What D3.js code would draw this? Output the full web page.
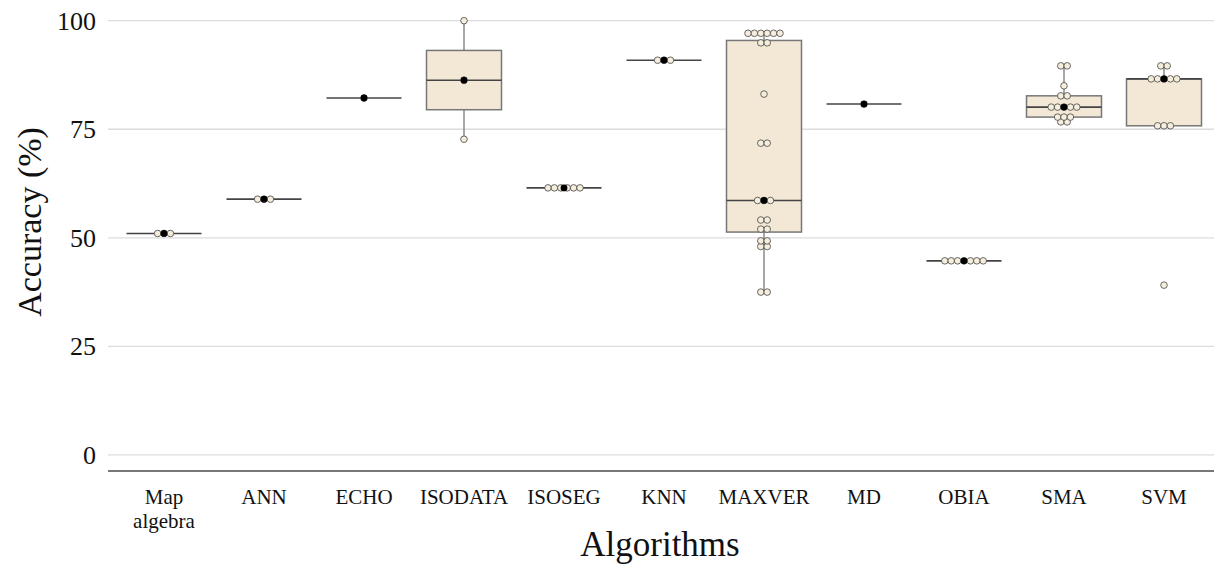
<!DOCTYPE html>
<html>
<head>
<meta charset="utf-8">
<script src="https://cdn.jsdelivr.net/npm/d3@7"></script>
<style>
  body { margin: 0; background: #fff; }
  text { font-family: "Liberation Serif", "Times New Roman", serif; fill: #111; }
</style>
</head>
<body>
<div id="chart"></div>
<script>
// Algorithms on the x axis
const categories = ['Map algebra', 'ANN', 'ECHO', 'ISODATA', 'ISOSEG', 'KNN', 'MAXVER', 'MD', 'OBIA', 'SMA', 'SVM'];

// accuracy values (%) per algorithm
const mapAlgebra = [51.0, 51.0, 51.0];
const ann = [58.9, 58.9, 58.9];
const echo = [82.2];
const isodata = [72.7, 86.3, 100];
const isoseg = [61.5, 61.5, 61.5, 61.5, 61.5, 61.5];
const knn = [90.9, 90.9, 90.9];
const maxver = [37.5, 37.5, 48.0, 48.0, 49.3, 49.3, 52.0, 52.0, 54.1, 54.1, 58.6, 58.6, 58.6,
  71.8, 71.8, 83.1, 94.9, 94.9, 97.1, 97.1, 97.1, 97.1, 97.1, 97.1];
const md = [80.8];
const obia = [44.7, 44.7, 44.7, 44.7, 44.7, 44.7, 44.7];
const sma = [76.7, 76.7, 77.8, 77.8, 77.8, 80.1, 80.1, 80.1, 80.1, 80.1, 82.7, 82.7, 85.0, 89.6, 89.6];
const svm = [39.1, 75.8, 75.8, 75.8, 86.6, 86.6, 86.6, 86.6, 86.6, 89.6, 89.6];

const yTicks = [0, 25, 50, 75, 100];

const groups = [mapAlgebra, ann, echo, isodata, isoseg, knn, maxver, md, obia, sma, svm]
  .map((vals, i) => ({ name: categories[i], values: vals.slice().sort(d3.ascending) }));

const W = 1214, H = 569;
const svg = d3.select('#chart').append('svg')
  .attr('width', W)
  .attr('height', H);

// scales
const x = d3.scaleBand()
  .domain(categories)
  .range([114, 1214])
  .paddingInner(0.25)
  .paddingOuter(0.125);

const y = d3.scaleLinear()
  .domain([-3.7, 100])
  .range([471, 20.7]);

// gridlines
svg.append('g')
  .selectAll('line')
  .data(yTicks)
  .enter().append('line')
  .attr('x1', 108)
  .attr('x2', W)
  .attr('y1', d => y(d))
  .attr('y2', d => y(d))
  .attr('stroke', '#dcdcdc')
  .attr('stroke-width', 1.3);

// y axis labels
const yAxis = svg.append('g')
  .attr('transform', 'translate(108,0)')
  .call(d3.axisLeft(y).tickValues(yTicks).tickSize(0).tickPadding(12).tickFormat(d3.format('d')));
yAxis.select('.domain').remove();
yAxis.selectAll('text')
  .style('font-size', '26px')
  .style('font-family', '"Liberation Serif", serif')
  .attr('fill', '#111');

// x axis
const xAxis = svg.append('g')
  .attr('transform', `translate(0,${y(-3.7)})`)
  .call(d3.axisBottom(x).tickSize(0).tickPadding(18));
xAxis.select('.domain')
  .attr('d', `M108,0H${W}`)
  .attr('stroke', '#777')
  .attr('stroke-width', 2);
xAxis.selectAll('.tick text')
  .style('font-size', '21px')
  .style('font-family', '"Liberation Serif", serif')
  .attr('fill', '#111')
  .each(function(d) {
    const words = d.split(' ');
    if (words.length > 1) {
      const t = d3.select(this).text(null);
      words.forEach((w, i) => {
        t.append('tspan')
          .attr('x', 0)
          .attr('dy', i === 0 ? '0.71em' : '1.15em')
          .text(w);
      });
      t.attr('dy', null);
    }
  });

// axis titles
svg.append('text')
  .attr('x', 660)
  .attr('y', 556)
  .attr('text-anchor', 'middle')
  .style('font-size', '35px')
  .text('Algorithms');

svg.append('text')
  .attr('transform', 'translate(29,222) rotate(-90)')
  .attr('text-anchor', 'middle')
  .attr('dominant-baseline', 'central')
  .style('font-size', '34px')
  .text('Accuracy (%)');

// box stats
groups.forEach(g => {
  const v = g.values;
  g.q1 = d3.quantile(v, 0.25);
  g.med = d3.quantile(v, 0.5);
  g.q3 = d3.quantile(v, 0.75);
  const iqr = g.q3 - g.q1;
  g.lo = d3.min(v.filter(d => d >= g.q1 - 1.5 * iqr));
  g.hi = d3.max(v.filter(d => d <= g.q3 + 1.5 * iqr));
});

const boxes = svg.append('g')
  .selectAll('g')
  .data(groups)
  .enter().append('g')
  .attr('transform', d => `translate(${x(d.name)},0)`);

const bw = x.bandwidth();

// whiskers
boxes.append('line')
  .attr('x1', bw / 2).attr('x2', bw / 2)
  .attr('y1', d => y(d.hi)).attr('y2', d => y(d.q3))
  .attr('stroke', '#8a8a8a').attr('stroke-width', 1.5);
boxes.append('line')
  .attr('x1', bw / 2).attr('x2', bw / 2)
  .attr('y1', d => y(d.q1)).attr('y2', d => y(d.lo))
  .attr('stroke', '#8a8a8a').attr('stroke-width', 1.5);

// box
boxes.append('rect')
  .attr('x', 0)
  .attr('width', bw)
  .attr('y', d => y(d.q3))
  .attr('height', d => y(d.q1) - y(d.q3))
  .attr('fill', '#f2e8d5')
  .attr('stroke', '#777')
  .attr('stroke-width', 1.5);

// median line
boxes.append('line')
  .attr('x1', 0).attr('x2', bw)
  .attr('y1', d => y(d.med)).attr('y2', d => y(d.med))
  .attr('stroke', '#444')
  .attr('stroke-width', 1.6);

// points, dodged sideways when they share a value
const step = 6.4;
boxes.each(function(g) {
  const rows = d3.groups(g.values, d => d);
  const pts = [];
  rows.forEach(([val, arr]) => {
    arr.forEach((d, i) => pts.push({ v: d, dx: (i - (arr.length - 1) / 2) * step }));
  });
  d3.select(this).selectAll('circle.pt')
    .data(pts)
    .enter().append('circle')
    .attr('class', 'pt')
    .attr('cx', d => bw / 2 + d.dx)
    .attr('cy', d => y(d.v))
    .attr('r', 3.3)
    .attr('fill', '#f6eedc')
    .attr('stroke', '#444')
    .attr('stroke-width', 0.8);
});

// median dot
boxes.append('circle')
  .attr('cx', bw / 2)
  .attr('cy', d => y(d.med))
  .attr('r', 3.4)
  .attr('fill', '#000');
</script>
</body>
</html>
